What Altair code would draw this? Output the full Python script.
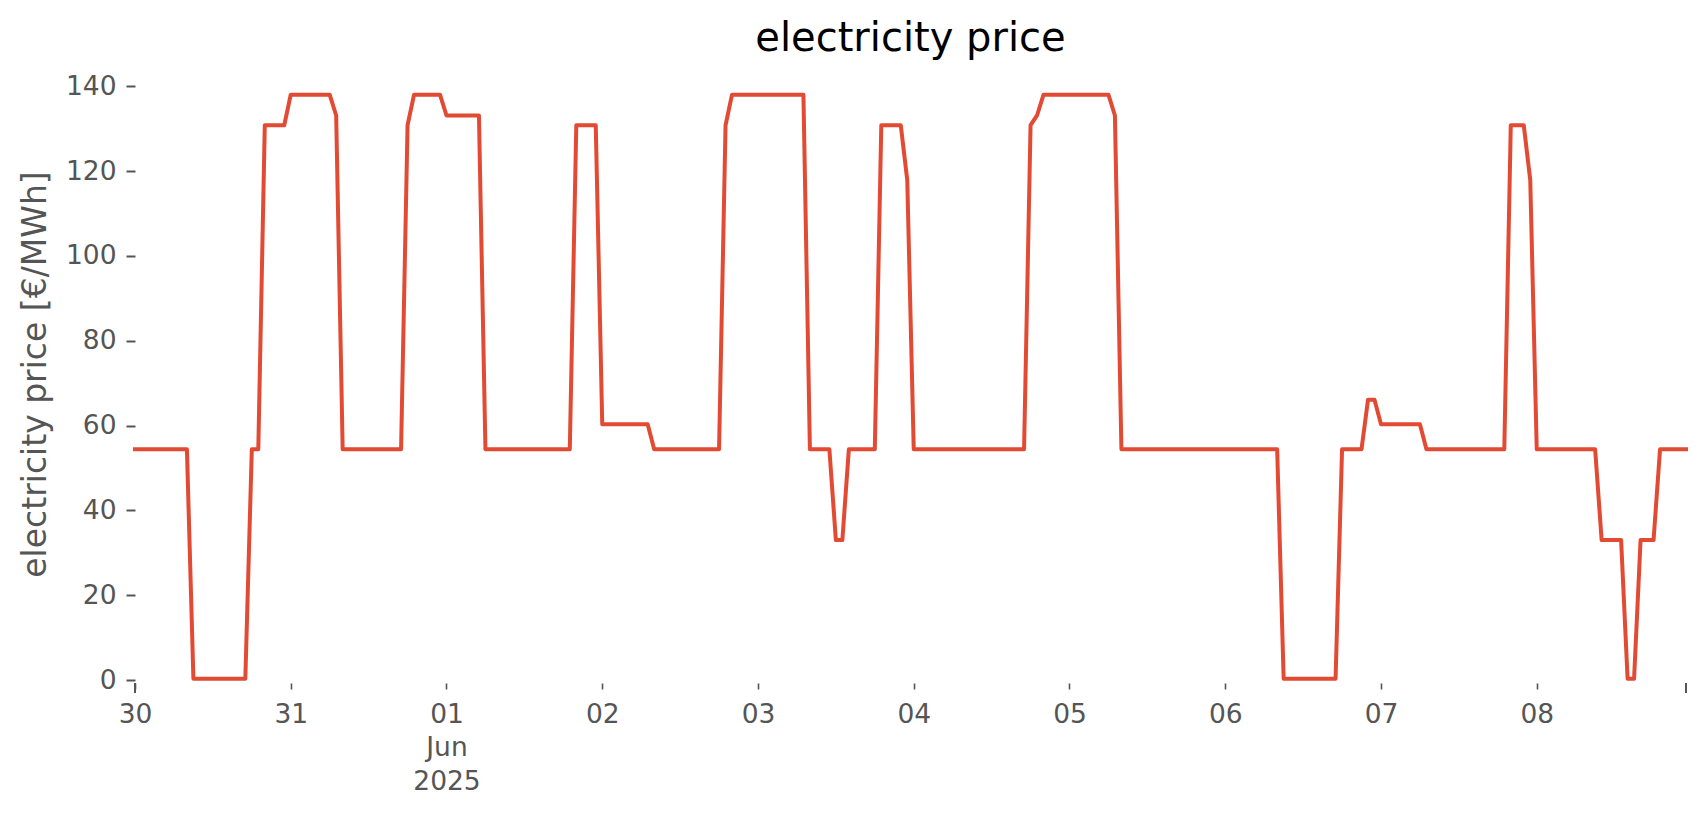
import altair as alt
import pandas as pd

# hourly electricity price [€/MWh], one list per day (24 values each)
may30 = [54.4, 54.4, 54.4, 54.4, 54.4, 54.4, 54.4, 54.4, 54.4, 0.3, 0.3, 0.3,
         0.3, 0.3, 0.3, 0.3, 0.3, 0.3, 54.4, 54.4, 130.8, 130.8, 130.8, 130.8]
may31 = [138.0, 138.0, 138.0, 138.0, 138.0, 138.0, 138.0, 133.1, 54.4, 54.4, 54.4, 54.4,
         54.4, 54.4, 54.4, 54.4, 54.4, 54.4, 130.8, 138.0, 138.0, 138.0, 138.0, 138.0]
jun01 = [133.1, 133.1, 133.1, 133.1, 133.1, 133.1, 54.4, 54.4, 54.4, 54.4, 54.4, 54.4,
         54.4, 54.4, 54.4, 54.4, 54.4, 54.4, 54.4, 54.4, 130.8, 130.8, 130.8, 130.8]
jun02 = [60.3, 60.3, 60.3, 60.3, 60.3, 60.3, 60.3, 60.3, 54.4, 54.4, 54.4, 54.4,
         54.4, 54.4, 54.4, 54.4, 54.4, 54.4, 54.4, 130.8, 138.0, 138.0, 138.0, 138.0]
jun03 = [138.0, 138.0, 138.0, 138.0, 138.0, 138.0, 138.0, 138.0, 54.4, 54.4, 54.4, 54.4,
         33.0, 33.0, 54.4, 54.4, 54.4, 54.4, 54.4, 130.8, 130.8, 130.8, 130.8, 117.9]
jun04 = [54.4, 54.4, 54.4, 54.4, 54.4, 54.4, 54.4, 54.4, 54.4, 54.4, 54.4, 54.4,
         54.4, 54.4, 54.4, 54.4, 54.4, 54.4, 130.8, 133.1, 138.0, 138.0, 138.0, 138.0]
jun05 = [138.0, 138.0, 138.0, 138.0, 138.0, 138.0, 138.0, 133.1, 54.4, 54.4, 54.4, 54.4,
         54.4, 54.4, 54.4, 54.4, 54.4, 54.4, 54.4, 54.4, 54.4, 54.4, 54.4, 54.4]
jun06 = [54.4, 54.4, 54.4, 54.4, 54.4, 54.4, 54.4, 54.4, 54.4, 0.3, 0.3, 0.3,
         0.3, 0.3, 0.3, 0.3, 0.3, 0.3, 54.4, 54.4, 54.4, 54.4, 66.1, 66.1]
jun07 = [60.3, 60.3, 60.3, 60.3, 60.3, 60.3, 60.3, 54.4, 54.4, 54.4, 54.4, 54.4,
         54.4, 54.4, 54.4, 54.4, 54.4, 54.4, 54.4, 54.4, 130.8, 130.8, 130.8, 117.9]
jun08 = [54.4, 54.4, 54.4, 54.4, 54.4, 54.4, 54.4, 54.4, 54.4, 54.4, 33.0, 33.0,
         33.0, 33.0, 0.3, 0.3, 33.0, 33.0, 33.0, 54.4, 54.4, 54.4, 54.4, 54.4]

days = [may30, may31, jun01, jun02, jun03, jun04, jun05, jun06, jun07, jun08]
start = "2025-05-30 00:00"

# axis tick days (month, date) and tick labels
tick_days = [(5, 30), (5, 31), (6, 1), (6, 2), (6, 3), (6, 4), (6, 5), (6, 6), (6, 7), (6, 8)]
y_ticks = [0, 20, 40, 60, 80, 100, 120, 140]
month_label = "Jun"
year_label = "2025"

title_text = "electricity price"
y_title = "electricity price [€/MWh]"
line_color = "#E24A33"
text_gray = "#555555"

values = [v for d in days for v in d]
times = pd.date_range(start, periods=len(values), freq="h")
df = pd.DataFrame({"time": times.strftime("%Y-%m-%dT%H:%M:%SZ"), "price": values})
major = pd.DataFrame({"time": [df["time"].iloc[0], df["time"].iloc[-1]]})

W, H = 1551, 618

tick_vals = [alt.DateTime(year=2025, month=m, date=d, hours=0, utc=True) for m, d in tick_days]

label_expr = (
    f"utcFormat(datum.value, '%d') == '01' ? ['01', '{month_label}', '{year_label}'] "
    f": utcFormat(datum.value, '%d')"
)

x_enc = alt.X(
    "time:T",
    scale=alt.Scale(type="utc", nice=False, padding=0),
    axis=alt.Axis(
        values=tick_vals,
        labelExpr=label_expr,
        title=None,
        domain=False,
        grid=False,
        tickSize=6,
        tickWidth=1.6,
        tickColor=text_gray,
        labelColor=text_gray,
        labelFont="DejaVu Sans",
        labelFontSize=26.5,
        labelBaseline="alphabetic",
        labelPadding=33,
        labelLineHeight=33.5,
        labelOverlap=False,
        labelFlush=False,
    ),
)

line = alt.Chart(df).mark_line(
    color=line_color, strokeWidth=4, strokeJoin="round", strokeCap="square"
).encode(
    x=x_enc,
    y=alt.Y(
        "price:Q",
        scale=alt.Scale(domain=[-0.7, 145], nice=False, zero=False),
        axis=alt.Axis(
            values=y_ticks,
            title=y_title,
            domain=False,
            grid=False,
            tickSize=9,
            tickWidth=2,
            tickColor=text_gray,
            labelColor=text_gray,
            labelFont="DejaVu Sans",
            labelFontSize=26.5,
            labelPadding=10,
            titleColor=text_gray,
            titleFont="DejaVu Sans",
            titleFontSize=33,
            titleFontWeight="normal",
            titleAngle=270,
            titleAlign="center",
            titleBaseline="middle",
            titleX=-100,
            titleY=H / 2,
        ),
    ),
)

major_ticks = alt.Chart(major).mark_rule(color=text_gray, strokeWidth=2).encode(
    x=alt.X("time:T"),
    y=alt.value(H),
    y2=alt.value(H + 10),
)

chart = (
    alt.layer(line, major_ticks)
    .properties(
        width=W,
        height=H,
        title=alt.TitleParams(
            text=title_text,
            font="DejaVu Sans",
            fontSize=40,
            fontWeight="normal",
            color="#000000",
            anchor="middle",
            baseline="alphabetic",
            offset=8,
            dy=34,
        ),
        autosize=alt.AutoSizeParams(type="none"),
        padding={"left": 127, "top": 57, "right": 10, "bottom": 120},
        background="white",
    )
    .configure_view(strokeWidth=0)
)

chart.save("out.html", embed_options={"renderer": "svg", "actions": False})
